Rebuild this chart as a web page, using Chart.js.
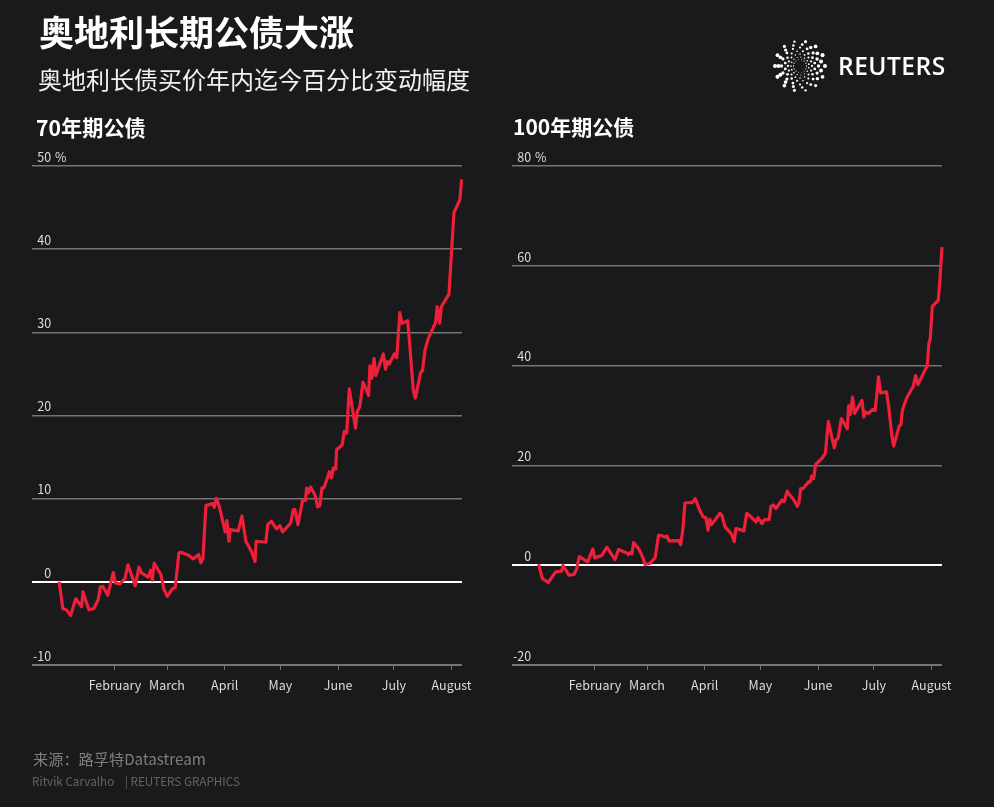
<!DOCTYPE html>
<html lang="zh">
<head>
<meta charset="utf-8">
<script src="https://cdn.jsdelivr.net/npm/chart.js@4"></script>
<style>
html,body{margin:0;padding:0;background:#1a191c;}
body{position:relative;width:994px;height:807px;overflow:hidden;font-family:"Noto Sans CJK SC","Noto Sans",sans-serif;}
canvas{position:absolute;top:0;}
.t{position:absolute;white-space:nowrap;line-height:1;}
#title{left:39px;top:13px;font-size:35px;font-weight:700;color:#fff;}
#sub{left:38px;top:67px;font-size:24px;color:#f2f2f2;}
#p1{left:36px;top:116px;font-size:21.2px;font-weight:700;color:#fff;}
#p2{left:513px;top:116px;font-size:21px;font-weight:700;color:#fff;}
#src{left:33px;top:751px;font-size:15.2px;color:#7f7f7f;}
#credit{left:32px;top:775px;font-size:11.7px;color:#646464;}
#rt{left:838px;top:54px;font-size:24.5px;font-weight:600;color:#fff;font-family:"Open Sans","Noto Sans",sans-serif;letter-spacing:.5px;}
#logo{left:770px;top:38px;}
</style>
</head>
<body>
<canvas id="c1" width="480" height="807" style="left:0"></canvas>
<canvas id="c2" width="480" height="807" style="left:480px"></canvas>
<canvas id="logo" width="60" height="56"></canvas>
<div class="t" id="title">奥地利长期公债大涨</div>
<div class="t" id="sub">奥地利长债买价年内迄今百分比变动幅度</div>
<div class="t" id="p1">70年期公债</div>
<div class="t" id="p2">100年期公债</div>
<div class="t" id="rt">REUTERS</div>
<div class="t" id="src">来源：路孚特Datastream</div>
<div class="t" id="credit">Ritvik Carvalho &nbsp;&nbsp; | REUTERS GRAPHICS</div>
<script>
const monthNames = ["February","March","April","May","June","July","August"];
const monthDays = [31,59,90,120,151,181,212];
const xMin = -13.6, xMax = 217.6;

const days70 = [1,3,5,7.2,9.9,13.1,13.8,15.4,17,19.7,22,23.1,24.5,27.2,30.1,31.2,33.7,36.4,38,41.9,43.9,45.3,48.9,50.2,51.1,52.1,55.7,57.3,59.1,62,63.4,65.4,66.5,70.4,73.1,76,77.2,78.3,79.9,83.5,84.4,85.5,87.1,90.3,91.2,92.3,93,97.3,99.3,101.4,104.5,106.3,106.9,112.2,113.1,115.2,117.9,119.7,121.2,125.5,126.9,127.8,129.4,131.9,133.4,134.1,135,136.2,138.5,140,141.2,142.3,143.4,146.3,147.5,148.4,149.7,150.2,153.2,154.3,155.6,157,160.4,161.3,162.7,164.4,167.4,168.1,169.2,170.3,171.3,175.3,176.5,177.6,178.5,181.2,182.5,184.2,185.3,188.4,189.6,191.4,192.5,195.4,196.4,197.7,199.5,203.4,204.3,205.6,206.5,210.6,213.3,216.5,217.4];
const values70 = [0,-3.24,-3.4,-4.04,-2.04,-3,-1.2,-2.32,-3.36,-3.2,-2.12,-0.64,-0.56,-1.6,1.12,-0.12,-0.24,0.4,2.04,-0.48,1.76,1.08,0.56,1.4,0.2,2.24,0.88,-0.84,-1.76,-0.8,-0.72,3.48,3.56,3.24,2.76,3.28,2.28,2.76,9.16,9.4,8.96,10.04,9.08,6,7.36,4.88,6.28,6.12,7.92,4.88,3.6,2.44,4.88,4.76,6.88,7.28,6.36,6.76,6,7.08,8.68,8.68,6.88,9.8,9.8,11.28,10.68,11.4,10.48,9,9.16,11.28,11.28,13.24,12.48,13.68,13.56,15.88,16.48,18.08,17.88,23.2,18.48,20.48,21.08,24,22.4,25.96,24.48,26.88,24.8,27.4,25.56,26.48,26.2,27.4,26.96,32.36,31.08,31.4,28.28,23.08,22.08,25.16,25.4,27.88,29.28,31.16,33.08,31.08,33.08,34.6,44.4,45.96,48.4];

const days100 = [0.7,2.7,5.9,9.9,13.1,13.8,17,19.7,21.1,22.6,27.1,29.9,30.8,34.6,37.4,41.8,43.7,48.4,48.9,50.2,50.9,51.8,54.8,57,57.9,60.6,63.4,65.2,66.1,69,69.7,70.8,76.2,77.1,78.3,79.4,83.5,85,87.1,89.2,90.7,91.8,92.8,93.7,98.2,99.3,100.9,104.5,105.9,106.8,109,111.1,112.6,114.4,117.6,118.7,120.8,122,124.7,125.6,126.9,128.3,131.6,132.8,134.4,135.9,138,139.8,140.7,141.6,142.8,145.9,146.8,147.5,148.6,149.7,152.9,154.9,156.5,159.7,160.6,161.8,163.5,166.7,167.4,168.3,169.5,170.6,174.6,175.6,176.4,178,180.3,181.7,183.5,184.6,187.8,188.9,190.7,191.6,194.6,195.5,196.4,198.8,202.2,203.4,204.7,209.7,210.6,211.3,212.4,215.6,216.5,217.6];
const values100 = [0.2,-2.67,-3.47,-1.33,-1.2,0,-2,-1.87,-0.8,1.73,0.67,3.27,1.47,1.93,3.6,1.13,3.13,2.4,2.13,2.53,2.27,4.53,3.13,1.33,0.13,0.33,1.53,6,6,5.6,5.87,4.87,4.93,4.13,7.2,12.47,12.6,13.33,11.2,9.67,9.53,7,9.2,8.13,10.4,10,7.73,6.2,4.73,7.33,7.13,6.87,10.4,9.87,8.67,9.53,8.33,9.07,9.2,11.73,12.07,11.33,13.07,12.73,14.87,14,13.07,11.8,12.53,15.33,15.33,16.73,16.67,17.87,17.33,20.2,21.33,22.4,28.8,23.53,25.07,25.53,29.4,27.33,32,30.2,33.67,30.4,33,29.67,30.67,30.4,31.2,31,37.73,34.53,34.73,31.87,25.87,23.87,27.87,28.13,31.2,33.67,35.87,38,36.2,40,44.53,45.33,51.87,53.07,57.2,63.73];

const TICK = "#dcdcdc", GRID = "#757577", RED = "#ee1f38";
const FONT = '"Noto Sans CJK SC","Noto Sans",sans-serif';

const percentPlugin = {
  id: "percentSign",
  afterDraw(chart) {
    const y = chart.scales.y, ctx = chart.ctx;
    ctx.save();
    ctx.font = "12.5px " + FONT;
    ctx.fillStyle = TICK;
    ctx.textAlign = "left";
    ctx.textBaseline = "middle";
    ctx.fillText("%", y.right + 23, y.getPixelForValue(y.max) - 9);
    ctx.restore();
  }
};

function draw(id, days, values, yMin, yMax, step) {
  new Chart(document.getElementById(id), {
    type: "line",
    data: {
      datasets: [{
        data: days.map((d, i) => ({ x: d, y: values[i] })),
        borderColor: RED, borderWidth: 3.2, pointRadius: 0, tension: 0,
        borderJoinStyle: "round", clip: false
      }]
    },
    plugins: [percentPlugin],
    options: {
      responsive: false, animation: false, devicePixelRatio: 1,
      layout: { padding: { left: 32, right: 18, top: 166, bottom: 102 } },
      plugins: { legend: { display: false }, tooltip: { enabled: false } },
      scales: {
        x: {
          type: "linear", min: xMin, max: xMax,
          afterFit(s) { s.height = 40; },
          afterBuildTicks(s) { s.ticks = monthDays.map(v => ({ value: v })); },
          border: { display: false },
          grid: { drawOnChartArea: false, drawTicks: true, tickLength: 5, tickColor: GRID, tickWidth: 1 },
          ticks: {
            autoSkip: false, maxRotation: 0, minRotation: 0, padding: 8, color: TICK,
            font: { family: FONT, size: 12.5 },
            callback: v => monthNames[monthDays.indexOf(v)]
          }
        },
        y: {
          min: yMin, max: yMax,
          afterFit(s) { s.width = 0; },
          border: { display: false },
          grid: {
            drawTicks: false,
            color: c => c.tick.value === 0 ? "#ffffff" : GRID,
            lineWidth: c => (c.tick.value === 0 || c.tick.value === yMin) ? 2 : 1.5
          },
          ticks: {
            stepSize: step, mirror: true, crossAlign: "far", padding: 1, color: TICK,
            font: { family: FONT, size: 12.5, lineHeight: 1.44 },
            callback: v => [String(v), ""]
          }
        }
      }
    }
  });
}
draw("c1", days70, values70, -10, 50, 10);
draw("c2", days100, values100, -20, 80, 20);

// Reuters logo mark
(function () {
  const ctx = document.getElementById("logo").getContext("2d");
  const cx = 30, cy = 28;
  ctx.fillStyle = "#fff";
  const rings = [[6.5,14,0.55],[9,15,0.75],[12,16,1],[15,16,1.25],[18.5,16,1.5],[21.5,15,1.75],[25,14,1.8]];
  rings.forEach((r, k) => {
    for (let i = 0; i < r[1]; i++) {
      const a = (i + (k % 2) / 2) / r[1] * Math.PI * 2;
      const w = 0.65 + 0.5 * Math.abs(Math.cos(a + 0.2));
      ctx.beginPath();
      ctx.arc(cx + r[0] * Math.cos(a), cy + r[0] * Math.sin(a), r[2] * w, 0, Math.PI * 2);
      ctx.fill();
    }
  });
})();
</script>
</body>
</html>
